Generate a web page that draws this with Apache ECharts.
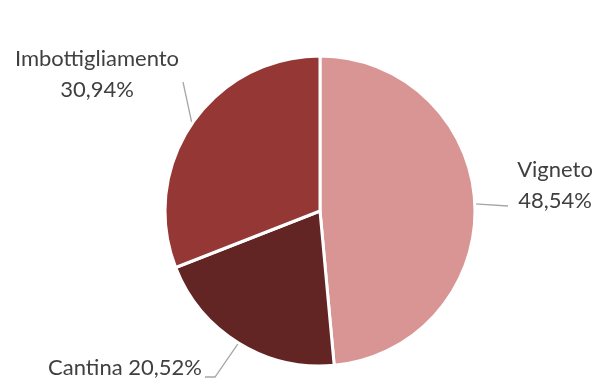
<!DOCTYPE html>
<html>
<head>
<meta charset="utf-8">
<script src="https://cdn.jsdelivr.net/npm/echarts@6/dist/echarts.min.js"></script>
<style>
  html, body { margin: 0; padding: 0; background: #fff; }
  #chart { width: 603px; height: 383px; }
</style>
</head>
<body>
<div id="chart"></div>
<script>
// Ripartizione dei costi per fase
const categories = ['Vigneto', 'Cantina', 'Imbottigliamento'];
const values = [48.54, 20.52, 30.94];
const colors = ['#D99594', '#632523', '#953735'];

const fmt = v => v.toFixed(2).replace('.', ',') + '%';

// Label anchor points and leader line bends, per slice
const labelSpots = [
  { x: 555, y: 185, bend: [508, 206], twoLines: true },
  { x: 125, y: 368, bend: [215, 377], end: [205, 377], twoLines: false },
  { x: 97, y: 74, bend: [183, 82], twoLines: true }
];

const chart = echarts.init(document.getElementById('chart'));
chart.setOption({
  animation: false,
  series: [{
    type: 'pie',
    center: [320, 211],
    radius: 155,
    startAngle: 90,
    clockwise: true,
    data: categories.map((c, i) => ({ name: c, value: values[i], itemStyle: { color: colors[i] } })),
    itemStyle: { borderColor: '#fff', borderWidth: 3 },
    label: {
      show: true,
      color: '#404040',
      fontFamily: 'Lato',
      fontSize: 22,
      lineHeight: 31,
      align: 'center',
      overflow: 'none',
      width: 300,
      formatter: p => labelSpots[p.dataIndex].twoLines
        ? p.name + '\n' + fmt(p.value)
        : p.name + ' ' + fmt(p.value)
    },
    labelLine: {
      show: true,
      lineStyle: { color: '#A6A6A6', width: 1.3 }
    },
    labelLayout: function (params) {
      const s = labelSpots[params.dataIndex];
      const pts = params.labelLinePoints;
      const start = pts ? pts[0] : s.bend;
      const out = {
        x: s.x,
        y: s.y,
        align: 'center',
        verticalAlign: 'middle'
      };
      out.labelLinePoints = s.end ? [start, s.bend, s.end] : [start, s.bend, s.bend];
      return out;
    }
  }]
});
</script>
</body>
</html>
